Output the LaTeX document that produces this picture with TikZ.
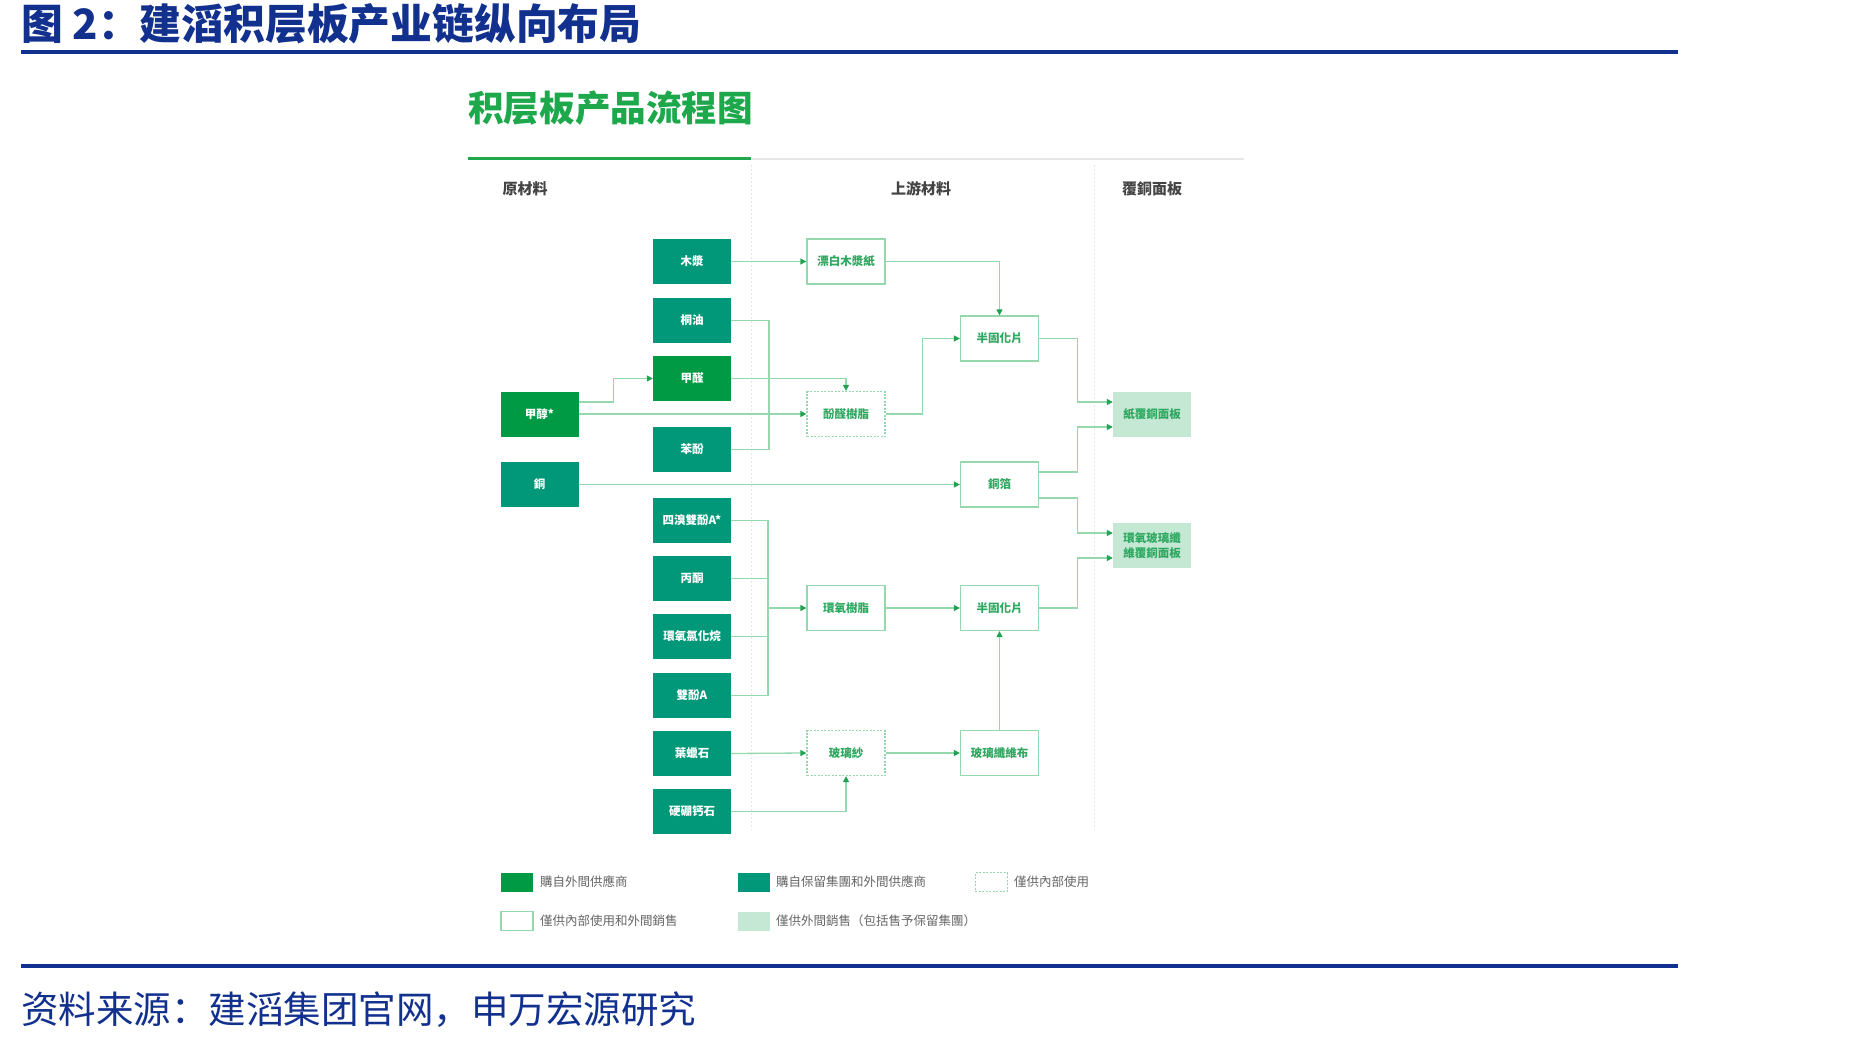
\documentclass[tikz,border=0pt]{standalone}
\usepackage{fontspec}
\usetikzlibrary{arrows.meta,calc}
\newfontfamily\cjksc{Noto Sans CJK SC}
\newfontfamily\cjktc{Noto Sans CJK TC}
\definecolor{tealbox}{HTML}{009878}
\definecolor{greenbox}{HTML}{009A44}
\definecolor{lightbox}{HTML}{C4E8D4}
\definecolor{lineg}{HTML}{96D8AE}
\definecolor{arrg}{HTML}{1FA352}
\definecolor{txtg}{HTML}{2EA860}
\definecolor{titleblue}{HTML}{12318F}
\definecolor{titlegreen}{HTML}{1DA84C}
\definecolor{hdrgray}{HTML}{444444}
\definecolor{leggray}{HTML}{666666}
\definecolor{sepgray}{HTML}{E6E6E6}
\tikzset{
  nbox/.style={minimum width=78pt, minimum height=45pt, inner sep=0pt, align=center,
    font=\cjktc\bfseries\fontsize{11.5}{15}\selectfont},
  tealb/.style={nbox, fill=tealbox, text=white},
  brightb/.style={nbox, fill=greenbox, text=white},
  wbox/.style={nbox, draw=lineg, line width=1.3pt, text=txtg},
  dbox/.style={nbox, draw=lineg, line width=1.3pt, dash pattern=on 2pt off 1.5pt, text=txtg},
  lbox/.style={nbox, fill=lightbox, text=txtg},
  ln/.style={draw=lineg, line width=1.3pt},
  arr/.style={ln, -{Triangle[length=6pt,width=6pt,color=arrg]}},
  hdr/.style={text=hdrgray, font=\cjktc\bfseries\fontsize{15}{15}\selectfont, inner sep=0pt},
  sw/.style={minimum width=32pt, minimum height=19pt, inner sep=0pt},
  legt/.style={anchor=west, text=leggray, inner sep=0pt, font=\cjktc\fontsize{12.5}{12.5}\selectfont},
}
\begin{document}
\begin{tikzpicture}[x=1pt,y=-1pt]
\fill[white] (0,0) rectangle (1849,1043);
\useasboundingbox (0,0) rectangle (1849,1043);
% page title and rules
\node[anchor=west, inner sep=0pt, text=titleblue, font=\cjksc\bfseries\fontsize{41.8}{42}\selectfont] (title) at (21,24) {图 2：建滔积层板产业链纵向布局};
\draw[titleblue, line width=3.5pt] (21,52) -- (1678,52);
\draw[titleblue, line width=3.5pt] (21,966) -- (1678,966);
\node[anchor=west, inner sep=0pt, text=titleblue, font=\cjksc\fontsize{37.5}{38}\selectfont] (src) at (21,1010) {资料来源：建滔集团官网，申万宏源研究};
% chart title
\node[anchor=west, inner sep=0pt, text=titlegreen, font=\cjktc\bfseries\fontsize{35.6}{36}\selectfont] (ctitle) at (468,108) {积层板产品流程图};
\draw[sepgray, line width=2pt] (751,159) -- (1244,159);
\draw[titlegreen, line width=3pt] (468,159) -- (751,159);
\draw[sepgray, line width=0.8pt, dash pattern=on 2pt off 2pt] (751,165) -- (751,830);
\draw[sepgray, line width=0.8pt, dash pattern=on 2pt off 2pt] (1094,165) -- (1094,830);
\node[hdr] (h1) at (525,189) {原材料};
\node[hdr] (h2) at (921,189) {上游材料};
\node[hdr] (h3) at (1152,189) {覆銅面板};
% column A
\node[brightb] (methanol) at (539.5,414) {甲醇*};
\node[tealb] (copper) at (539.5,484.5) {銅};
% column B
\node[tealb] (pulp) at (692,261.5) {木漿};
\node[tealb] (tung) at (692,320.5) {桐油};
\node[brightb] (formal) at (692,378.5) {甲醛};
\node[tealb] (phenol) at (692,449.5) {苯酚};
\node[tealb] (tbba) at (692,520.5) {四溴雙酚A*};
\node[tealb] (acetone) at (692,578.5) {丙酮};
\node[tealb] (ech) at (692,636.5) {環氧氯化烷};
\node[tealb] (bpa) at (692,695.5) {雙酚A};
\node[tealb] (pyro) at (692,753.5) {葉蠟石};
\node[tealb] (colem) at (692,811.5) {硬硼钙石};
% column C
\node[wbox] (paper) at (846,261.5) {漂白木漿紙};
\node[dbox] (phenres) at (846,414) {酚醛樹脂};
\node[wbox] (epoxy) at (846,608) {環氧樹脂};
\node[dbox] (yarn) at (846,753) {玻璃紗};
% column D
\node[wbox] (pp1) at (999.5,338.5) {半固化片};
\node[wbox] (foil) at (999.5,484.5) {銅箔};
\node[wbox] (pp2) at (999.5,608) {半固化片};
\node[wbox] (cloth) at (999.5,753) {玻璃纖維布};
% column E
\node[lbox] (ccl1) at (1152,414.5) {紙覆銅面板};
\node[lbox] (ccl2) at (1152,545.5) {環氧玻璃纖\\維覆銅面板};
% junction columns
\coordinate (j1) at (769,0);
\coordinate (j2) at (768,0);
% connectors
\draw[arr] (pulp.east) -- (paper.west);
\draw[arr] (paper.east) -| (pp1.north);
\draw[ln] (tung.east) -| (j1 |- phenol.east) -- (phenol.east);
\draw[arr] (formal.east) -| (phenres.north);
\draw[arr] ([yshift=12pt]methanol.east) -- ++(35,0) |- (formal.west);
\draw[arr] (methanol.east) -- (phenres.west);
\draw[arr] (phenres.east) -- ++(37,0) |- (pp1.west);
\draw[arr] (copper.east) -- (foil.west);
\draw[arr] (pp1.east) -- ++(38,0) |- ([yshift=12.5pt]ccl1.west);
\draw[arr] ([yshift=12.5pt]foil.east) -- ++(38,0) |- ([yshift=-12.5pt]ccl1.west);
\draw[arr] ([yshift=-13.5pt]foil.east) -- ++(38,0) |- ([yshift=12.5pt]ccl2.west);
\draw[arr] (pp2.east) -- ++(38,0) |- ([yshift=-12.5pt]ccl2.west);
\draw[ln] (tbba.east) -| (j2 |- bpa.east) -- (bpa.east);
\draw[ln] (acetone.east) -- (j2 |- acetone.east);
\draw[ln] (ech.east) -- (j2 |- ech.east);
\draw[arr] (j2 |- epoxy.west) -- (epoxy.west);
\draw[arr] (epoxy.east) -- (pp2.west);
\draw[arr] (pyro.east) -- (yarn.west);
\draw[arr] (colem.east) -| (yarn.south);
\draw[arr] (yarn.east) -- (cloth.west);
\draw[arr] (cloth.north) -- (pp2.south);
% legend
\node[sw, fill=greenbox] (lg1) at (517,882) {};
\node[legt] (lt1) at (540,882) {購自外間供應商};
\node[sw, fill=tealbox] (lg2) at (754,882) {};
\node[legt] (lt2) at (776,882) {購自保留集團和外間供應商};
\node[sw, draw=lineg, line width=1pt, dash pattern=on 2pt off 1.5pt] (lg3) at (991,882) {};
\node[legt] (lt3) at (1014,882) {僅供內部使用};
\node[sw, draw=lineg, line width=1.2pt] (lg4) at (517,921) {};
\node[legt] (lt4) at (540,921) {僅供內部使用和外間銷售};
\node[sw, fill=lightbox] (lg5) at (754,921) {};
\node[legt] (lt5) at (776,921) {僅供外間銷售（包括售予保留集團）};
\end{tikzpicture}
\end{document}
